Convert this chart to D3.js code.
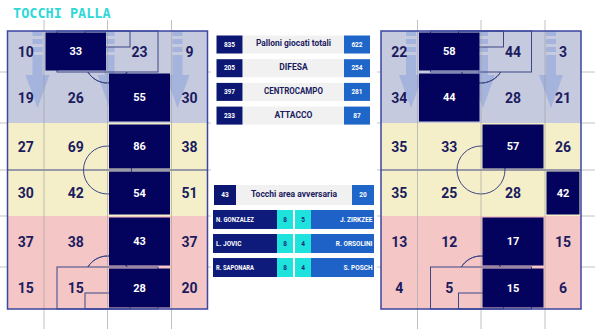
<!DOCTYPE html>
<html>
<head>
<meta charset="utf-8">
<script src="https://cdn.jsdelivr.net/npm/d3@7"></script>
<style>
body { margin: 0; background: #fff; }
svg { display: block; }
text { font-family: Roboto, "DejaVu Sans", sans-serif; font-weight: 700; }
</style>
</head>
<body>
<svg width="595" height="329"></svg>
<script>
// tocchi per zona (righe dall'alto verso il basso, colonne da sinistra)
var homeTouches = [[10,33,23,9],[19,26,55,30],[27,69,86,38],[30,42,54,51],[37,38,43,37],[15,15,28,20]];
var awayTouches = [[22,58,44,3],[34,44,28,21],[35,33,57,26],[35,25,28,42],[13,12,17,15],[4,5,15,6]];
var rowZones = ["difesa","difesa","centrocampo","centrocampo","attacco","attacco"];

var sections = ["Palloni giocati totali","DIFESA","CENTROCAMPO","ATTACCO"];
var homeSection = [835,205,397,233];
var awaySection = [622,254,281,87];

var boxLabel = "Tocchi area avversaria";
var homeBox = 43, awayBox = 20;

var homePlayers = ["N. GONZALEZ","L. JOVIC","R. SAPONARA"];
var homePlayerTouches = [8,8,8];
var awayPlayers = ["J. ZIRKZEE","R. ORSOLINI","S. POSCH"];
var awayPlayerTouches = [5,4,4];

var svg = d3.select("svg");
var navyText = "#1b1b5e";

var zoneColor = d3.scaleOrdinal()
    .domain(["difesa","centrocampo","attacco"])
    .range(["#c6cadf","#f4efc9","#f5c6c6"]);

var rowY = d3.scaleLinear().domain([0,1,2,3,4,5,6]).range([31,72,123,170,216,267,309]);

// grey guide lines across the whole picture
[1,2,3,4,5].forEach(function(r) {
    svg.append("line")
        .attr("x1", 0).attr("x2", 595)
        .attr("y1", rowY(r)).attr("y2", rowY(r))
        .attr("stroke", "#9a9a9a").attr("stroke-opacity", 0.6);
});

function drawPitch(x0, data) {
    var colX = d3.scaleLinear().domain([0,1,2,3,4]).range([x0, x0+36.5, x0+100, x0+164, x0+200]);
    var cx = colX(2);
    var g = svg.append("g");

    var cells = [];
    data.forEach(function(row, r) {
        var mx = d3.max(row);
        row.forEach(function(v, c) { cells.push({r: r, c: c, v: v, hot: v === mx}); });
    });

    g.selectAll("rect.cell").data(cells).enter().append("rect")
        .attr("x", function(d) { return colX(d.c); })
        .attr("y", function(d) { return rowY(d.r); })
        .attr("width", function(d) { return colX(d.c+1) - colX(d.c); })
        .attr("height", function(d) { return rowY(d.r+1) - rowY(d.r); })
        .attr("fill", function(d) { return zoneColor(rowZones[d.r]); });

    // arrows (direction of play)
    [30, 102, 170].forEach(function(off) {
        var ax = x0 + off;
        var a = g.append("g").attr("fill", "#98acdc").attr("opacity", 0.7);
        [[31,36],[39,44],[47,52],[55,75]].forEach(function(s) {
            a.append("rect").attr("x", ax-5).attr("y", s[0]).attr("width", 10).attr("height", s[1]-s[0]);
        });
        a.append("path").attr("d", "M" + (ax-12) + ",75L" + (ax+12) + ",75L" + ax + ",108Z");
    });

    // pitch markings
    var m = g.append("g").attr("fill", "none").attr("stroke", "#3d4785").attr("stroke-width", 1);
    var top = rowY(0), bot = rowY(6), mid = rowY(3);
    m.append("rect").attr("x", cx-50.5).attr("y", top).attr("width", 101).attr("height", 41);
    m.append("rect").attr("x", cx-22.5).attr("y", top).attr("width", 45).attr("height", 16);
    m.append("rect").attr("x", cx-50.5).attr("y", bot-42).attr("width", 101).attr("height", 42);
    m.append("rect").attr("x", cx-22.5).attr("y", bot-16).attr("width", 45).attr("height", 16);
    var arc = d3.arc().innerRadius(23).outerRadius(23);
    var ang = Math.acos(12/23);
    m.append("path").attr("transform", "translate(" + cx + "," + (top+29) + ")")
        .attr("d", arc({startAngle: Math.PI-ang, endAngle: Math.PI+ang}));
    m.append("path").attr("transform", "translate(" + cx + "," + (bot-30) + ")")
        .attr("d", arc({startAngle: -ang, endAngle: ang}));
    m.append("circle").attr("cx", cx).attr("cy", mid).attr("r", 24);
    m.append("line").attr("x1", x0).attr("x2", x0+200).attr("y1", mid).attr("y2", mid);

    // grey vertical guides
    [1,2,3].forEach(function(c) {
        g.append("line")
            .attr("x1", colX(c)).attr("x2", colX(c))
            .attr("y1", 20).attr("y2", 329)
            .attr("stroke", "#9a9a9a").attr("stroke-opacity", 0.6);
    });

    var hot = cells.filter(function(d) { return d.hot; });
    g.selectAll("rect.hot").data(hot).enter().append("rect")
        .attr("x", function(d) { return colX(d.c) + 1.5; })
        .attr("y", function(d) { return rowY(d.r) + 1.5; })
        .attr("width", function(d) { return colX(d.c+1) - colX(d.c) - 3; })
        .attr("height", function(d) { return rowY(d.r+1) - rowY(d.r) - 3; })
        .attr("fill", "#03035e");

    g.append("rect")
        .attr("x", x0).attr("y", top).attr("width", 200).attr("height", bot-top)
        .attr("fill", "none").attr("stroke", "#3a46a0").attr("stroke-width", 1.5);

    g.selectAll("text.num").data(cells).enter().append("text")
        .attr("x", function(d) { return (colX(d.c) + colX(d.c+1)) / 2; })
        .attr("y", function(d) { return (rowY(d.r) + rowY(d.r+1)) / 2; })
        .attr("dy", "0.36em")
        .attr("text-anchor", "middle")
        .attr("font-size", function(d) { return d.hot ? 11 : 14; })
        .attr("fill", function(d) { return d.hot ? "#fff" : navyText; })
        .text(function(d) { return d.v; });
}

drawPitch(7.5, homeTouches);
drawPitch(381, awayTouches);

// shrink a label if wider than the reference
function fit(sel, w) {
    sel.each(function() {
        if (this.getComputedTextLength() > w) {
            d3.select(this).attr("textLength", w).attr("lengthAdjust", "spacingAndGlyphs");
        }
    });
}

svg.append("text")
    .attr("x", 13).attr("y", 17.5)
    .attr("fill", "#2fd8d8")
    .style("font-family", "'DejaVu Sans Mono', monospace")
    .attr("font-size", 13.5)
    .text("TOCCHI PALLA");

// central panel
svg.append("rect").attr("x", 211).attr("y", 24).attr("width", 166).attr("height", 262).attr("fill", "#fff");

var yT = d3.scaleBand().domain(sections).range([35.5, 124.6]).paddingInner(0.24);
var t1 = svg.append("g");
t1.selectAll("rect.lb").data(sections).enter().append("rect")
    .attr("x", 243).attr("y", function(d) { return yT(d); })
    .attr("width", 101).attr("height", yT.bandwidth()).attr("fill", "#f1f1f1");
t1.selectAll("rect.hb").data(sections).enter().append("rect")
    .attr("x", 216.5).attr("y", function(d) { return yT(d); })
    .attr("width", 26).attr("height", yT.bandwidth()).attr("fill", "#0c1773");
t1.selectAll("rect.ab").data(sections).enter().append("rect")
    .attr("x", 344).attr("y", function(d) { return yT(d); })
    .attr("width", 26).attr("height", yT.bandwidth()).attr("fill", "#1f66c9");
t1.selectAll("text.ht").data(sections).enter().append("text")
    .attr("x", 229.5).attr("y", function(d) { return yT(d) + yT.bandwidth()/2; })
    .attr("dy", "0.35em").attr("text-anchor", "middle")
    .attr("font-size", 6.5).attr("fill", "#fff")
    .text(function(d, i) { return homeSection[i]; });
t1.selectAll("text.at").data(sections).enter().append("text")
    .attr("x", 357).attr("y", function(d) { return yT(d) + yT.bandwidth()/2; })
    .attr("dy", "0.35em").attr("text-anchor", "middle")
    .attr("font-size", 6.5).attr("fill", "#fff")
    .text(function(d, i) { return awaySection[i]; });
var lbls = t1.selectAll("text.lt").data(sections).enter().append("text")
    .attr("x", 293.5).attr("y", function(d) { return yT(d) + yT.bandwidth()/2 - 1; })
    .attr("dy", "0.35em").attr("text-anchor", "middle")
    .attr("font-size", 8.5).attr("fill", navyText)
    .text(function(d) { return d; });
fit(lbls.filter(function(d, i) { return i === 0; }), 75);
fit(lbls.filter(function(d, i) { return i === 2; }), 59);

// box touches row
var t2 = svg.append("g");
t2.append("rect").attr("x", 236).attr("y", 185).attr("width", 116).attr("height", 20).attr("fill", "#f1f1f1");
t2.append("rect").attr("x", 214).attr("y", 185).attr("width", 22).attr("height", 20).attr("fill", "#0c1773");
t2.append("rect").attr("x", 352).attr("y", 185).attr("width", 22).attr("height", 20).attr("fill", "#1f66c9");
t2.append("text").attr("x", 225).attr("y", 195).attr("dy", "0.35em").attr("text-anchor", "middle")
    .attr("font-size", 6.5).attr("fill", "#fff").text(homeBox);
t2.append("text").attr("x", 363).attr("y", 195).attr("dy", "0.35em").attr("text-anchor", "middle")
    .attr("font-size", 6.5).attr("fill", "#fff").text(awayBox);
fit(t2.append("text").attr("x", 294).attr("y", 194).attr("dy", "0.35em").attr("text-anchor", "middle")
    .attr("font-size", 9.5).attr("fill", navyText).text(boxLabel), 86);

// top players
var yP = d3.scaleBand().domain(d3.range(homePlayers.length)).range([210, 277]).paddingInner(0.21);
var t3 = svg.append("g");
var idx = d3.range(homePlayers.length);
function bar(x, w, fill) {
    t3.selectAll(null).data(idx).enter().append("rect")
        .attr("x", x).attr("y", function(i) { return yP(i); })
        .attr("width", w).attr("height", yP.bandwidth()).attr("fill", fill);
}
bar(213, 64, "#0f1b7a");
bar(277, 16, "#1ee3dd");
bar(295, 16, "#1ee3dd");
bar(311, 63, "#1e62c8");
function label(x, anchor, fill, vals, w) {
    var s = t3.selectAll(null).data(idx).enter().append("text")
        .attr("x", x).attr("y", function(i) { return yP(i) + yP.bandwidth()/2; })
        .attr("dy", "0.35em").attr("text-anchor", anchor)
        .attr("font-size", 6.5).attr("fill", fill)
        .text(function(i) { return vals[i]; });
    if (w) fit(s, w);
}
label(216, "start", "#fff", homePlayers, 38);
label(372.5, "end", "#fff", awayPlayers, 38);
label(285, "middle", "#1b2a78", homePlayerTouches);
label(303, "middle", "#1b2a78", awayPlayerTouches);
</script>
</body>
</html>
